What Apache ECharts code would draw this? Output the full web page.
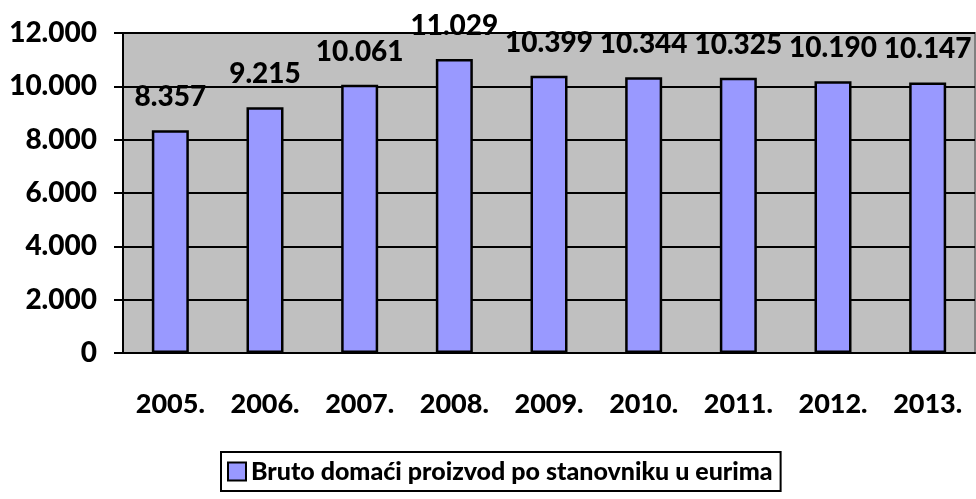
<!DOCTYPE html>
<html>
<head>
<meta charset="utf-8">
<script src="https://cdn.jsdelivr.net/npm/echarts@6/dist/echarts.min.js"></script>
<style>
  html, body { margin: 0; padding: 0; background: #fff; }
  #chart { width: 976px; height: 499px; }
</style>
</head>
<body>
<div id="chart"></div>
<script>
// godine i BDP po stanovniku (EUR)
const years = ['2005.', '2006.', '2007.', '2008.', '2009.', '2010.', '2011.', '2012.', '2013.'];
const gdpPerCapita = [8357, 9215, 10061, 11029, 10399, 10344, 10325, 10190, 10147];
const seriesName = 'Bruto domaći proizvod po stanovniku u eurima';

// 12000 -> "12.000"
const fmt = (v) => String(v).replace(/\B(?=(\d{3})+(?!\d))/g, '.');

const font = 'Lato, "Open Sans", sans-serif';
const weight = 900;
const chart = echarts.init(document.getElementById('chart'));

chart.setOption({
    animation: false,
    backgroundColor: '#fff',
    textStyle: { fontFamily: font },
    grid: {
        left: 123,
        right: 1,
        top: 33,
        bottom: 146,
        show: true,
        backgroundColor: '#c0c0c0',
        borderColor: '#808080',
        borderWidth: 2
    },
    legend: {
        left: 221,
        top: 452,
        icon: 'rect',
        itemWidth: 18,
        itemHeight: 18,
        itemGap: 6,
        padding: [7, 8, 7, 6],
        borderColor: '#000',
        borderWidth: 2,
        borderRadius: 0,
        textStyle: { fontFamily: font, fontWeight: weight, fontSize: 25, color: '#000' },
        data: [{ name: seriesName, itemStyle: { color: '#9999ff', borderColor: '#000', borderWidth: 2 } }]
    },
    xAxis: {
        type: 'category',
        data: years,
        axisLine: { lineStyle: { color: '#000', width: 2 } },
        axisTick: { length: 9, lineStyle: { color: '#000', width: 2 } },
        axisLabel: {
            interval: 0,
            margin: 38,
            color: '#000',
            fontFamily: font,
            fontWeight: weight,
            fontSize: 27
        }
    },
    yAxis: {
        type: 'value',
        min: 0,
        max: 12000,
        interval: 2000,
        axisLine: { show: true, lineStyle: { color: '#000', width: 2 } },
        axisTick: { show: true, length: 9, lineStyle: { color: '#000', width: 2 } },
        splitLine: { lineStyle: { color: '#000', width: 2 } },
        axisLabel: {
            margin: 26,
            color: '#000',
            fontFamily: font,
            fontWeight: weight,
            fontSize: 28,
            formatter: (v) => fmt(v)
        }
    },
    series: [{
        name: seriesName,
        type: 'bar',
        data: gdpPerCapita,
        barWidth: 37,
        itemStyle: { color: '#9999ff', borderColor: '#000', borderWidth: 2.5 },
        label: {
            show: true,
            position: 'top',
            distance: 20,
            color: '#000',
            fontFamily: font,
            fontWeight: weight,
            fontSize: 28,
            lineHeight: 26,
            formatter: (p) => fmt(p.value)
        }
    }]
});
</script>
</body>
</html>
